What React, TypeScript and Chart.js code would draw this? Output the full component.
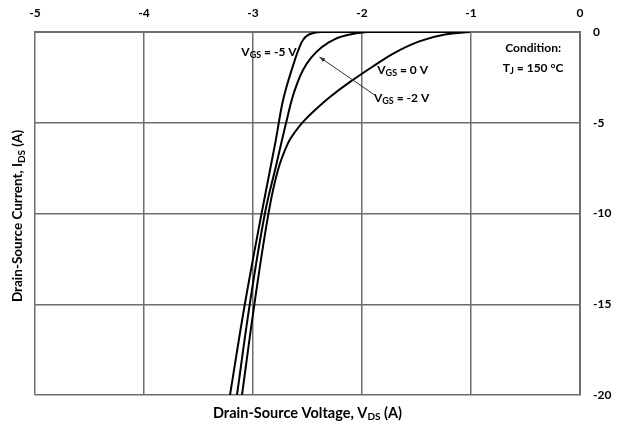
import React, { useEffect, useRef } from "react";
import { Chart, registerables } from "chart.js";

Chart.register(...registerables);

// Drain-source voltage (V) and current (A)
const vgsMinus5V_vds = [-3.211, -3.073, -2.917, -2.794, -2.734, -2.693, -2.61, -2.573, -2.541, -2.5, -2.445, -2.372, -1.95];
const vgsMinus5V_ids = [-20, -14.93, -9.86, -6.06, -4.02, -3.03, -1.43, -0.83, -0.44, -0.19, -0.055, 0, 0];

const vgsMinus2V_vds = [-3.147, -3.028, -2.89, -2.789, -2.734, -2.679, -2.642, -2.596, -2.541, -2.468, -2.367, -2.248, -2.11, -1.945, -1.01];
const vgsMinus2V_ids = [-20, -14.93, -9.97, -7.38, -5.95, -4.57, -3.69, -2.86, -2.09, -1.43, -0.83, -0.39, -0.14, 0, 0];

const vgs0V_vds = [-3.101, -2.986, -2.858, -2.771, -2.679, -2.615, -2.532, -2.431, -2.294, -2.11, -1.908, -1.697, -1.468, -1.239, -1.009];
const vgs0V_ids = [-20, -14.95, -9.99, -7.6, -6.12, -5.51, -4.9, -4.3, -3.58, -2.75, -1.93, -1.13, -0.5, -0.14, 0];

const xMin = -5;
const xMax = 0;
const xStep = 1;
const yMin = -20;
const yMax = 0;
const yStep = 5;

const xTitle = ["Drain-Source Voltage, V", "DS", " (A)"];
const yTitle = ["Drain-Source Current, I", "DS", " (A)"];
const conditionLine1 = "Condition:";
const conditionLine2 = ["T", "J", " = 150 °C"];
const labelMinus5 = ["V", "GS", " = -5 V"];
const label0 = ["V", "GS", " = 0 V"];
const labelMinus2 = ["V", "GS", " = -2 V"];

const FONT = "Lato, 'Open Sans', 'DejaVu Sans', sans-serif";

function toPts(xs: number[], ys: number[]) {
  return xs.map((x, i) => ({ x, y: ys[i] }));
}

// parts: [normal, subscript, normal]
function drawRich(
  ctx: CanvasRenderingContext2D,
  parts: string[],
  x: number,
  y: number,
  align: "left" | "center" | "right",
  size: number
) {
  const mainFont = `bold ${size}px ${FONT}`;
  const subFont = `bold ${Math.round(size * 0.72)}px ${FONT}`;
  const widths = parts.map((p, i) => {
    ctx.font = i % 2 === 1 ? subFont : mainFont;
    return ctx.measureText(p).width;
  });
  const total = widths.reduce((a, b) => a + b, 0);
  let cx = align === "left" ? x : align === "center" ? x - total / 2 : x - total;
  ctx.textAlign = "left";
  ctx.textBaseline = "middle";
  ctx.fillStyle = "#000";
  parts.forEach((p, i) => {
    const sub = i % 2 === 1;
    ctx.font = sub ? subFont : mainFont;
    ctx.fillText(p, cx, sub ? y + size * 0.28 : y);
    cx += widths[i];
  });
}

const annotationPlugin = {
  id: "annotationsAndTitles",
  afterDraw(chart: any) {
    const { ctx, scales, chartArea } = chart;
    const xs = scales.x;
    const ys = scales.y;
    const px = (v: number) => xs.getPixelForValue(v);
    const py = (v: number) => ys.getPixelForValue(v);
    ctx.save();

    // curve labels
    drawRich(ctx, labelMinus5, px(-2.6), py(-1.1), "right", 12);
    drawRich(ctx, label0, px(-1.86), py(-2.1), "left", 12);
    drawRich(ctx, labelMinus2, px(-1.89), py(-3.64), "left", 12);

    // arrow from V_GS=-2 V label to its curve
    const ax0 = px(-1.885), ay0 = py(-3.47);
    const ax1 = px(-2.39), ay1 = py(-1.38);
    ctx.strokeStyle = "#333";
    ctx.lineWidth = 1;
    ctx.beginPath();
    ctx.moveTo(ax0, ay0);
    ctx.lineTo(ax1, ay1);
    ctx.stroke();
    const ang = Math.atan2(ay1 - ay0, ax1 - ax0);
    const hl = 6;
    ctx.fillStyle = "#333";
    ctx.beginPath();
    ctx.moveTo(ax1, ay1);
    ctx.lineTo(ax1 - hl * Math.cos(ang - 0.35), ay1 - hl * Math.sin(ang - 0.35));
    ctx.lineTo(ax1 - hl * Math.cos(ang + 0.35), ay1 - hl * Math.sin(ang + 0.35));
    ctx.closePath();
    ctx.fill();

    // condition text
    ctx.fillStyle = "#000";
    ctx.font = `bold 12px ${FONT}`;
    ctx.textAlign = "center";
    ctx.textBaseline = "middle";
    ctx.fillText(conditionLine1, px(-0.43), py(-0.88));
    drawRich(ctx, conditionLine2, px(-0.43), py(-1.98), "center", 12);

    // axis titles
    const midX = (chartArea.left + chartArea.right) / 2;
    drawRich(ctx, xTitle, midX, 413, "center", 14.5);
    ctx.save();
    ctx.translate(18, 216);
    ctx.rotate(-Math.PI / 2);
    drawRich(ctx, yTitle, 0, 0, "center", 13.5);
    ctx.restore();

    ctx.restore();
  },
};

export default function App() {
  const canvasRef = useRef<HTMLCanvasElement | null>(null);

  useEffect(() => {
    if (!canvasRef.current) return;
    const lineStyle = {
      borderColor: "#000",
      borderWidth: 2,
      pointRadius: 0,
      showLine: true,
      fill: false,
      tension: 0.4,
    };
    const gridColor = "#6e6e6e";
    const tickFont = { family: FONT, weight: "bold" as const, size: 12 };
    const chart = new Chart(canvasRef.current, {
      type: "scatter",
      data: {
        datasets: [
          { label: "VGS = -5 V", data: toPts(vgsMinus5V_vds, vgsMinus5V_ids), ...lineStyle },
          { label: "VGS = -2 V", data: toPts(vgsMinus2V_vds, vgsMinus2V_ids), ...lineStyle },
          { label: "VGS = 0 V", data: toPts(vgs0V_vds, vgs0V_ids), ...lineStyle },
        ],
      },
      options: {
        animation: false,
        responsive: false,
        maintainAspectRatio: false,
        layout: { padding: { left: 35, bottom: 35, top: 0, right: 0 } },
        plugins: { legend: { display: false }, tooltip: { enabled: false } },
        scales: {
          x: {
            type: "linear",
            position: "top",
            min: xMin,
            max: xMax,
            ticks: { stepSize: xStep, font: tickFont, color: "#000", padding: 12 },
            grid: { color: gridColor, lineWidth: 1.5, drawTicks: false },
            border: { color: gridColor, width: 2 },
            afterFit: (s: any) => {
              s.height = 32;
            },
          },
          y: {
            type: "linear",
            position: "right",
            min: yMin,
            max: yMax,
            ticks: { stepSize: yStep, font: tickFont, color: "#000", padding: 13 },
            grid: { color: gridColor, lineWidth: 1.5, drawTicks: false },
            border: { color: gridColor, width: 2 },
            afterFit: (s: any) => {
              s.width = 40;
            },
          },
        },
      },
      plugins: [annotationPlugin],
    });
    return () => chart.destroy();
  }, []);

  return (
    <div style={{ position: "absolute", left: 0, top: 0, width: 620, height: 430, background: "#fff" }}>
      <canvas ref={canvasRef} width={620} height={430} />
    </div>
  );
}
